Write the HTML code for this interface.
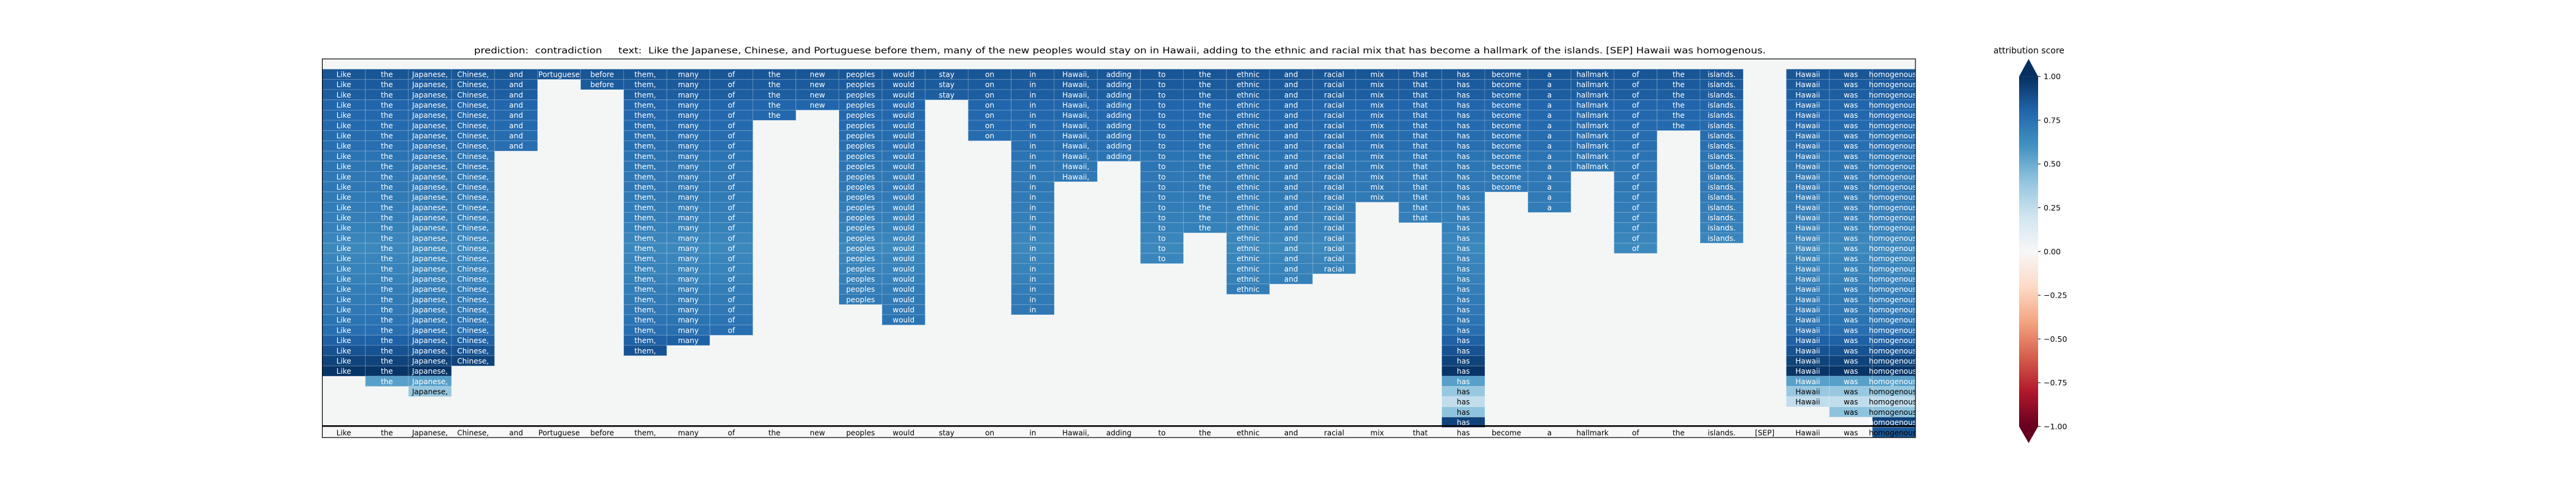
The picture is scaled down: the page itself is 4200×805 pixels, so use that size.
<!DOCTYPE html>
<html><head><meta charset="utf-8"><style>
html,body{margin:0;padding:0;background:#fff;}
svg text{font-family:"DejaVu Sans","Liberation Sans",sans-serif;}
</style></head><body>
<svg id="chart" xmlns="http://www.w3.org/2000/svg" width="4200" height="800" viewBox="0 0 4200 800">
<defs>
<clipPath id="axclip"><rect x="525.5" y="96" width="2597.5" height="617"/></clipPath>
<linearGradient id="cbgrad" x1="0" y1="1" x2="0" y2="0">
<stop offset="0" stop-color="#67001f"/><stop offset="0.1" stop-color="#b2182b"/><stop offset="0.2" stop-color="#d6604d"/><stop offset="0.3" stop-color="#f4a582"/><stop offset="0.4" stop-color="#fddbc7"/><stop offset="0.5" stop-color="#f7f7f7"/><stop offset="0.6" stop-color="#d1e5f0"/><stop offset="0.7" stop-color="#92c5de"/><stop offset="0.8" stop-color="#4393c3"/><stop offset="0.9" stop-color="#2166ac"/><stop offset="1" stop-color="#053061"/>
</linearGradient>
</defs>
<text x="773" y="87" font-size="14" fill="#000" textLength="2106" lengthAdjust="spacingAndGlyphs" xml:space="preserve">prediction:  contradiction     text:  Like the Japanese, Chinese, and Portuguese before them, many of the new peoples would stay on in Hawaii, adding to the ethnic and racial mix that has become a hallmark of the islands. [SEP] Hawaii was homogenous.</text>
<rect x="525.5" y="96" width="2597.5" height="617" fill="#f4f6f6"/>
<rect x="525.5" y="694.3" width="2597.5" height="18.7" fill="#f8f8f8"/>
<g id="cells" clip-path="url(#axclip)"></g>
<line x1="525.5" x2="3123" y1="694.3" y2="694.3" stroke="#000" stroke-width="2.5"/>
<rect x="525.5" y="96" width="2597.5" height="617" fill="none" stroke="#000" stroke-width="1.2"/>
<g id="colorbar">
<text x="3308" y="87" font-size="14" text-anchor="middle" fill="#000">attribution score</text>
<polygon points="3292,124.6 3323,124.6 3307.5,96" fill="#053061"/>
<rect x="3292" y="124.6" width="31" height="570.4" fill="url(#cbgrad)"/>
<polygon points="3292,695 3323,695 3307.5,722" fill="#67001f"/>
<g id="cbticks"></g>
</g>
</svg>
<script>
const tokens = ["Like","the","Japanese,","Chinese,","and","Portuguese","before","them,","many","of","the","new","peoples","would","stay","on","in","Hawaii,","adding","to","the","ethnic","and","racial","mix","that","has","become","a","hallmark","of","the","islands.","[SEP]","Hawaii","was","homogenous."];
const survivalRows = [30,31,32,29,8,1,2,28,27,26,5,4,23,25,3,7,24,11,9,19,16,22,21,20,13,15,35,12,14,10,18,6,17,0,33,34,36];
const rowScores = [0.86,0.84,0.83,0.8,0.79,0.78,0.77,0.76,0.74,0.73,0.72,0.72,0.71,0.7,0.69,0.68,0.66,0.65,0.66,0.67,0.68,0.7,0.71,0.72,0.74,0.76,0.82,0.87,0.93,0.98,0.55,0.38,0.25,0.41,0.93,0.86];
const cbTicks = [1.0,0.75,0.5,0.25,0.0,-0.25,-0.5,-0.75,-1.0];
const cbTickLabels = ["1.00","0.75","0.50","0.25","0.00","\u22120.25","\u22120.50","\u22120.75","\u22121.00"];

const AX_L=525.5, AX_T=96, AX_R=3123, AX_B=713, NROWS=37;
const colW=(AX_R-AX_L)/tokens.length, rowH=(AX_B-AX_T)/NROWS;
const xPos=i=>AX_L+i*colW;
const yPos=r=>AX_T+r*rowH;
const stops=["#67001f","#b2182b","#d6604d","#f4a582","#fddbc7","#f7f7f7","#d1e5f0","#92c5de","#4393c3","#2166ac","#053061"];
function hex(h){return [1,3,5].map(k=>parseInt(h.substr(k,2),16));}
function cmap(v){
  let t=(Math.max(-1,Math.min(1,v))+1)/2*10;let i=Math.min(9,Math.floor(t));let f=t-i;
  const a=hex(stops[i]),b=hex(stops[i+1]);
  return "rgb("+a.map((c,k)=>Math.round(c+(b[k]-c)*f)).join(",")+")";
}
const NS="http://www.w3.org/2000/svg";
const g=document.getElementById("cells");
tokens.forEach((tok,i)=>{
  const n=survivalRows[i];
  for(let r=1;r<=n;r++){
    const s=rowScores[r-1];
    const rect=document.createElementNS(NS,"rect");
    
    
    rect.setAttribute("x",xPos(i));rect.setAttribute("y",yPos(r));
    rect.setAttribute("width",colW);rect.setAttribute("height",rowH);
    rect.setAttribute("fill",cmap(s));
    rect.setAttribute("stroke","rgba(255,255,255,0.18)");rect.setAttribute("stroke-width","1");
    g.appendChild(rect);
    if(r<NROWS-1){
      const t=document.createElementNS(NS,"text");
      
      
      t.setAttribute("x",xPos(i)+colW/2);t.setAttribute("y",yPos(r)+rowH/2+4.5);
      t.setAttribute("text-anchor","middle");t.setAttribute("font-size","12");
      t.setAttribute("fill",s<0.45?"#000":"#fff");
      t.textContent=tok;g.appendChild(t);
    }
  }
  const lab=document.createElementNS(NS,"text");
  
  
  lab.setAttribute("x",xPos(i)+colW/2);lab.setAttribute("y",yPos(NROWS-1)+rowH/2+5);
  lab.setAttribute("text-anchor","middle");lab.setAttribute("font-size","12");lab.setAttribute("fill","#000");
  lab.textContent=tok;g.appendChild(lab);
});
const cb=document.getElementById("cbticks");
const cbY=v=>124.6+(1-v)/2*570.4;
cbTicks.forEach((v,k)=>{
  const l=document.createElementNS(NS,"line");
  
  
  l.setAttribute("x1",3323);l.setAttribute("x2",3327);l.setAttribute("y1",cbY(v));l.setAttribute("y2",cbY(v));
  l.setAttribute("stroke","#000");cb.appendChild(l);
  const t=document.createElementNS(NS,"text");
  
  
  t.setAttribute("x",3332);t.setAttribute("y",cbY(v)+4.5);t.setAttribute("font-size","12.5");
  t.textContent=cbTickLabels[k];cb.appendChild(t);
});
</script>
</body></html>
